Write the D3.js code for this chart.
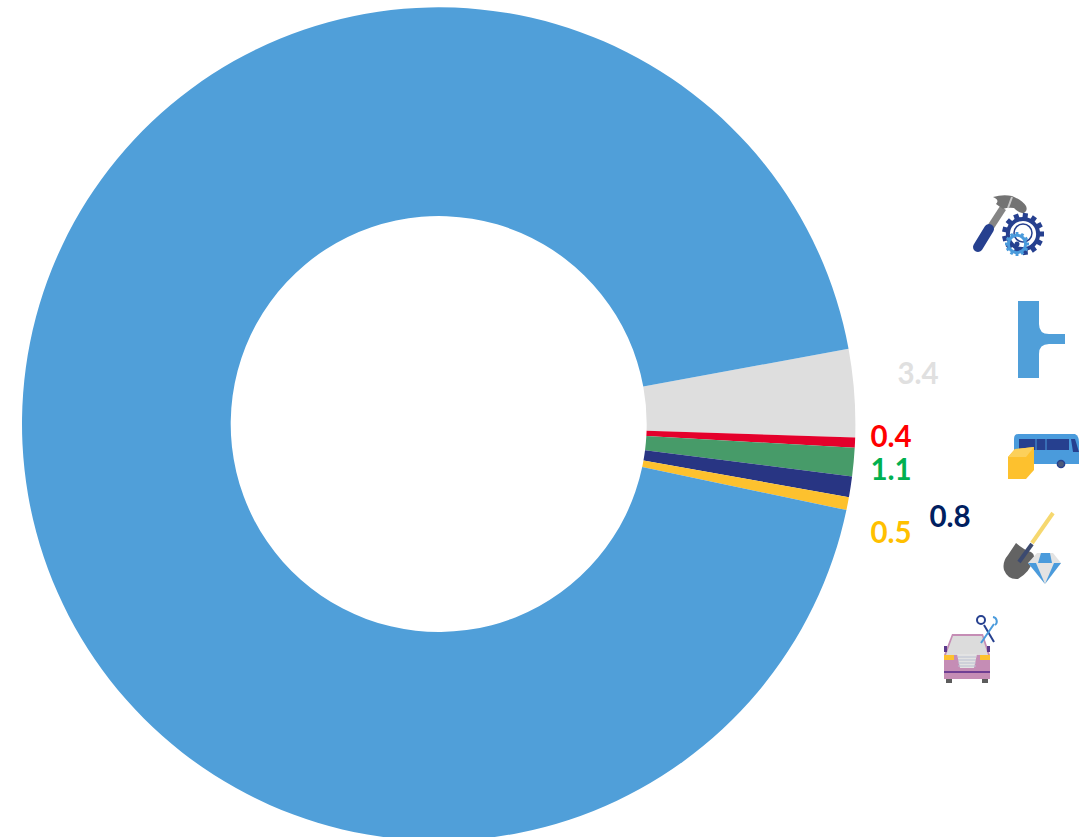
<!DOCTYPE html>
<html><head><meta charset="utf-8">
<script src="https://cdn.jsdelivr.net/npm/d3@7"></script>
<style>html,body{margin:0;padding:0;background:#fff;overflow:hidden}svg{display:block}</style>
</head><body><svg id="c" width="1079" height="837"></svg>
<script>
const categories = ["Other services","Utilities","Transport & storage","Mining","Trade & repair","Rest"];
const values = [3.4,0.4,1.1,0.8,0.5,93.8];
const sliceColors = ["#dedede","#e4002b","#479b69","#283583","#fdc12e","#509fd9"];
const labelColors = ["#e0e0e0","#ff0000","#00b050","#002060","#ffc000"];
const labelCenters = [[918,372],[891,435],[891,468],[950,515],[891,531]];

const svg = d3.select("#c");
const cx = 438.7, cy = 424, R = 416.7, r = 208;
const start = 79.6 * Math.PI / 180;
const pie = d3.pie().sort(null).value(d => d).startAngle(start).endAngle(start + 2 * Math.PI);
const arc = d3.arc().innerRadius(r).outerRadius(R);
svg.append("g").attr("transform", `translate(${cx},${cy})`)
  .selectAll("path").data(pie(values)).join("path")
  .attr("d", arc).attr("fill", (d,i) => sliceColors[i]);

svg.append("g").selectAll("text").data(values.slice(0,5)).join("text")
  .attr("x",(d,i)=>labelCenters[i][0]).attr("y",(d,i)=>labelCenters[i][1])
  .attr("text-anchor","middle").attr("dominant-baseline","central")
  .attr("font-family","Lato, 'Open Sans', sans-serif").attr("font-weight",700).attr("font-size",29.5)
  .attr("fill",(d,i)=>labelColors[i]).text(d=>d.toFixed(1));

// icons
const icons = svg.append("g").attr("class","icons");
const poly = (pts,fill) => icons.append("polygon").attr("points",pts.map(p=>p.join(",")).join(" ")).attr("fill",fill);
const path = (d,fill) => icons.append("path").attr("d",d).attr("fill",fill);
const line = (x1,y1,x2,y2,stroke,w,cap="butt") => icons.append("line").attr("x1",x1).attr("y1",y1).attr("x2",x2).attr("y2",y2).attr("stroke",stroke).attr("stroke-width",w).attr("stroke-linecap",cap);
const rect = (x,y,w,h,fill) => icons.append("rect").attr("x",x).attr("y",y).attr("width",w).attr("height",h).attr("fill",fill);
const circ = (x,y,rad,fill,stroke,sw) => icons.append("circle").attr("cx",x).attr("cy",y).attr("r",rad).attr("fill",fill).attr("stroke",stroke||"none").attr("stroke-width",sw||0);
function gear(x,y,rad,teeth,color,w){
  circ(x,y,rad*0.72,"none",color,w);
  for(let i=0;i<teeth;i++){const a=i/teeth*2*Math.PI;
    line(x+Math.cos(a)*rad*0.7,y+Math.sin(a)*rad*0.7,x+Math.cos(a)*rad,y+Math.sin(a)*rad,color,rad*0.24);}
}
// hammer + gears
line(990,228,1003,208,"#858585",7);
line(978,247,989,229,"#26408f",10,"round");
path("M993,197Q1003,194 1012,196Q1022,200 1026,206Q1028,211 1024,213Q1020,214 1014,208Q1008,207 1003,209L996,204Q1000,200 993,197Z","#737373");
line(1012,197,1008,208,"#c9c9c9",2);
gear(1023,234,21,13,"#26408f",4);
circ(1023,233,9,"none","#26408f",1.5);
gear(1017,244,12,12,"#4a9bdc",3);
circ(1017,244,2.5,"#26408f");
// T shape
path("M1018,301H1039V324Q1039,334 1049,334H1065V344H1049Q1039,344 1039,354V378H1018Z","#509fd9");
// bus + box
path("M1018,434H1075Q1079,436 1079,442V464H1014V439Q1014,434 1018,434Z","#4a9bdc");
rect(1019,439,50,11,"#26408f");
line(1036,439,1036,450,"#4a9bdc",1);line(1046,439,1046,450,"#4a9bdc",1);
poly([[1071,439],[1075,439],[1079,452],[1073,452]],"#26408f");
circ(1061,464,3.6,"#4c5a7a","#26408f",1.5);
poly([[1008,457],[1015,449],[1034,447],[1034,470],[1026,479],[1008,479]],"#fdc12e");
poly([[1008,457],[1015,449],[1034,447],[1026,457]],"#fcd05a");
// shovel + diamond
line(1053,513,1032,543,"#f6d86f",4);
path("M1016,543Q1024,550 1031,552Q1036,555 1033,560Q1030,572 1018,579Q1008,580 1004,570Q1002,562 1008,555Z","#636363");
line(1032,544,1019,562,"#3c4a70",4);
poly([[1028,563],[1037,553],[1053,553],[1061,563],[1045,584]],"#e3e3e3");
poly([[1041,553],[1050,553],[1052,563],[1038,563]],"#4a9bdc");
poly([[1028,563],[1036,563],[1045,584]],"#4a9bdc");
poly([[1054,563],[1061,563],[1045,584]],"#4a9bdc");
// car + spanner
rect(946,677,6,6,"#5c5c5c");rect(982,677,6,6,"#5c5c5c");
poly([[952,634],[983,634],[990,655],[990,679],[944,679],[944,655]],"#c58db5");
poly([[953,636],[982,636],[988,655],[946,655]],"#dcdcdc");
rect(944,646,3,6,"#5b3a8c");rect(987,646,3,6,"#5b3a8c");
rect(944,655,10,5,"#fdc12e");rect(980,655,10,5,"#fdc12e");
poly([[957,654],[977,654],[974,668],[960,668]],"#e3e3e3");
[657,660,663,666].forEach(y=>line(958,y,976,y,"#b9bfd0",1));
line(944,672,990,672,"#6f3f93",2);
line(984,625,994,642,"#26408f",2);
line(994,624,981,643,"#4a9bdc",2);
circ(981,620,4,"none","#26408f",2);
path("M993,617a4.5,4.5 0 0 1 2,8","none").attr("stroke","#4a9bdc").attr("stroke-width",2);
</script></body></html>
